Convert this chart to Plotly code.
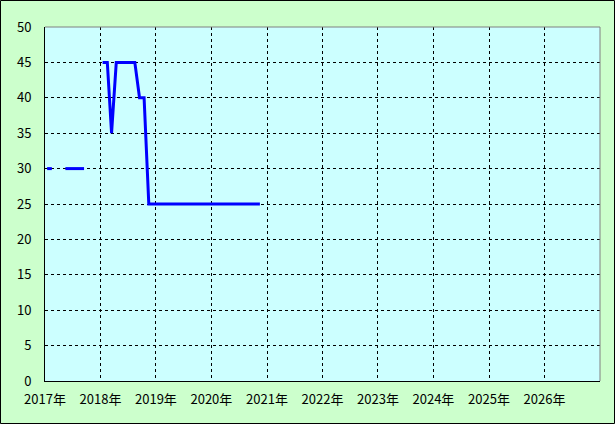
import plotly.graph_objects as go

# Monthly data (mid-month points), starting Jan 2017
start_year = 2017
values = [
    30, 30, None, None, 30, 30, 30, 30, 30, None, None, None,   # 2017
    45, 45, 35, 45, 45, 45, 45, 45, 40, 40, 25, 25,             # 2018
    25, 25, 25, 25, 25, 25, 25, 25, 25, 25, 25, 25,             # 2019
    25, 25, 25, 25, 25, 25, 25, 25, 25, 25, 25,                 # 2020 (Jan-Nov)
]
dates = [f"{start_year + i // 12}-{i % 12 + 1:02d}-15" for i in range(len(values))]

tick_years = list(range(2017, 2027))
tick_vals = [f"{y}-01-01" for y in tick_years]
tick_text = [f"{y}年" for y in tick_years]
y_ticks = list(range(0, 51, 5))

W, H = 615, 424
L, R, T, B = 45, 15, 27, 43
pw, ph = W - L - R, H - T - B

fig = go.Figure()
fig.add_trace(go.Scatter(
    x=dates, y=values, mode="lines",
    line=dict(color="#0000FF", width=3),
    connectgaps=False, hoverinfo="skip", showlegend=False,
))

font = dict(family="Noto Sans CJK JP, DejaVu Sans, sans-serif", size=13, color="black")

fig.update_layout(
    width=W, height=H,
    margin=dict(l=L, r=R, t=T, b=B),
    paper_bgcolor="#CCFFCC",
    plot_bgcolor="#CCFFFF",
    font=font,
    xaxis=dict(
        type="date", range=["2017-01-01", "2027-01-01"],
        tickvals=tick_vals, ticktext=tick_text,
        showgrid=True, gridcolor="black", gridwidth=1, griddash="3px,3px",
        showline=True, linecolor="black", linewidth=1,
        ticks="", ticklabelstandoff=6, zeroline=False, fixedrange=True,
    ),
    yaxis=dict(
        range=[0, 50], tickvals=y_ticks,
        showgrid=True, gridcolor="black", gridwidth=1, griddash="3px,3px",
        showline=True, linecolor="black", linewidth=1,
        ticks="", ticklabelstandoff=10, zeroline=False, fixedrange=True,
    ),
    shapes=[
        # top and right plot borders (gray)
        dict(type="line", xref="paper", yref="paper", x0=0, x1=1, y0=1, y1=1,
             line=dict(color="#808080", width=1)),
        dict(type="line", xref="paper", yref="paper", x0=1, x1=1, y0=0, y1=1,
             line=dict(color="#808080", width=1)),
        # outer frame
        dict(type="rect", xref="paper", yref="paper",
             x0=(0.5 - L) / pw, x1=(W - 0.5 - L) / pw,
             y0=(H - B - (H - 0.5)) / ph, y1=(H - B - 0.5) / ph,
             line=dict(color="black", width=1), fillcolor="rgba(0,0,0,0)", layer="above"),
    ],
)

fig.write_html(
    "out.html",
    config={"displayModeBar": False},
    post_script="document.body.style.margin='0px';document.body.style.overflow='hidden';",
)
